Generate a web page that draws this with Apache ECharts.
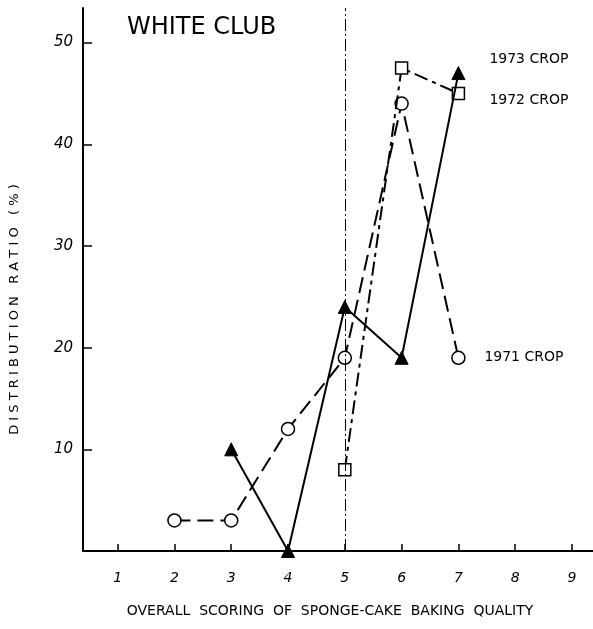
<!DOCTYPE html>
<html><head><meta charset="utf-8">
<script src="https://cdn.jsdelivr.net/npm/echarts@6/dist/echarts.min.js"></script>
<style>html,body{margin:0;padding:0;background:#fff}#c{width:593px;height:629px}</style>
</head><body><div id="c"></div>
<script>
const scores = [1,2,3,4,5,6,7,8,9];
const yTicks = [10,20,30,40,50];
const crop1971 = [[2,3],[3,3],[4,12],[5,19],[6,44],[7,19]];
const crop1972 = [[5,8],[6,47.5],[7,45]];
const crop1973 = [[3,10],[4,0],[5,24],[6,19],[7,47]];
const seriesNames = ['1971 CROP','1972 CROP','1973 CROP'];
const divider = 5;

const FONT = 'DejaVu Sans';
const chart = echarts.init(document.getElementById('c'));
const lineBase = {type:'line', symbolKeepAspect:true, clip:false, animation:false};
chart.setOption({
  backgroundColor:'#fff',
  title:{text:'WHITE CLUB', left:122, top:11, textStyle:{fontFamily:FONT, fontWeight:'normal', fontSize:24, color:'#000'}},
  grid:{left:80, right:0, top:8, bottom:78},
  xAxis:{type:'value', min:0.39, max:9.37,
    name:'OVERALL  SCORING  OF  SPONGE-CAKE  BAKING  QUALITY', nameLocation:'middle', nameGap:53,
    nameTextStyle:{fontFamily:FONT, fontSize:14, color:'#000', padding:[0,16,0,0]},
    axisLine:{lineStyle:{color:'#000', width:2}},
    axisTick:{inside:true, length:7, customValues:scores, lineStyle:{color:'#000', width:1.5}},
    axisLabel:{customValues:scores, margin:20, fontFamily:FONT, fontSize:14, fontStyle:'italic', color:'#000'},
    splitLine:{show:false}},
  yAxis:{type:'value', min:0, max:53.4,
    name:'D I S T R I B U T I O N   R A T I O   ( % )', nameLocation:'middle', nameGap:62, nameRotate:90,
    nameTextStyle:{fontFamily:FONT, fontSize:13, color:'#000', padding:[0,60,0,0]},
    axisLine:{show:true, lineStyle:{color:'#000', width:2}},
    axisTick:{show:true, inside:true, length:9, customValues:yTicks, lineStyle:{color:'#000', width:1.5}},
    axisLabel:{customValues:yTicks, margin:10, fontFamily:FONT, fontSize:15, fontStyle:'italic', color:'#000'},
    splitLine:{show:false}},
  series:[
    Object.assign({}, lineBase, {name:seriesNames[0], data:crop1971, z:3,
      symbol:'circle', symbolSize:13,
      itemStyle:{color:'#fff', borderColor:'#000', borderWidth:1.5},
      lineStyle:{color:'#000', width:2, type:[16,7]},
      endLabel:{show:true, formatter:seriesNames[0], offset:[18,0], fontFamily:FONT, fontSize:14, color:'#000'},
      markLine:{silent:true, symbol:'none', label:{show:false},
        lineStyle:{color:'#000', width:1, type:[12,3,2,3]},
        data:[{xAxis:divider}]}}),
    Object.assign({}, lineBase, {name:seriesNames[1], data:crop1972, z:4,
      symbol:'rect', symbolSize:12,
      itemStyle:{color:'#fff', borderColor:'#000', borderWidth:1.5},
      lineStyle:{color:'#000', width:2, type:[14,5,4,5]},
      endLabel:{show:true, formatter:seriesNames[1], offset:[23,7], fontFamily:FONT, fontSize:14, color:'#000'}}),
    Object.assign({}, lineBase, {name:seriesNames[2], data:crop1973, z:5,
      symbol:'triangle', symbolSize:[13,13],
      itemStyle:{color:'#000', borderColor:'#000', borderWidth:1},
      lineStyle:{color:'#000', width:2, type:'solid'},
      endLabel:{show:true, formatter:seriesNames[2], offset:[23,-14], fontFamily:FONT, fontSize:14, color:'#000'}})
  ]
});
</script></body></html>
